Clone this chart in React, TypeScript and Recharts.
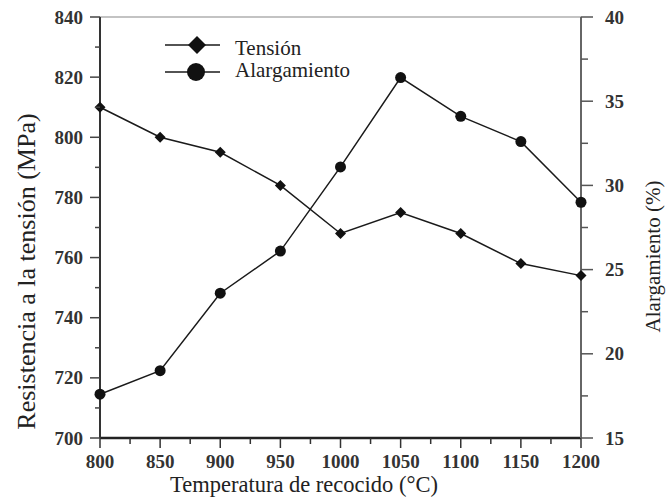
import React from 'react';
import { LineChart, Line, XAxis, YAxis, Legend, ReferenceLine } from 'recharts';

const temperatures = [800, 850, 900, 950, 1000, 1050, 1100, 1150, 1200];
const tension = [810, 800, 795, 784, 768, 775, 768, 758, 754];
const elongation = [17.6, 19.0, 23.6, 26.1, 31.1, 36.4, 34.1, 32.6, 29.0];

const xTicks = [800, 825, 850, 875, 900, 925, 950, 975, 1000, 1025, 1050, 1075, 1100, 1125, 1150, 1175, 1200];
const leftTicks = [700, 710, 720, 730, 740, 750, 760, 770, 780, 790, 800, 810, 820, 830, 840];
const rightTicks = [15, 17.5, 20, 22.5, 25, 27.5, 30, 32.5, 35, 37.5, 40];

const data = temperatures.map((t, i) => ({
  temp: t,
  tension: tension[i],
  alargamiento: elongation[i],
}));

const SERIF = 'Liberation Serif, DejaVu Serif, serif';
const INK = '#1a1a1a';

const tickText = { fontFamily: SERIF, fontWeight: 700, fontSize: 19, fill: '#333' };
const titleText = { fontFamily: SERIF, fontWeight: 400, fill: '#222' };

const isMajor = (v: number, base: number, step: number) => {
  const k = (v - base) / step;
  return Math.abs(k - Math.round(k)) < 1e-6;
};

// tick renderers draw their own tick marks so minor ticks can go without labels
const LeftTick = (props: any) => {
  const { x, y, payload } = props;
  const major = isMajor(payload.value, 700, 20);
  return (
    <g>
      <line x1={x} y1={y} x2={x - (major ? 10 : 5)} y2={y} stroke="#444" strokeWidth={1.5} />
      {major && (
        <text x={x - 17} y={y} textAnchor="end" dominantBaseline="central" style={tickText}>
          {payload.value}
        </text>
      )}
    </g>
  );
};

const RightTick = (props: any) => {
  const { x, y, payload } = props;
  const major = isMajor(payload.value, 15, 5);
  return (
    <g>
      <line x1={x} y1={y} x2={x + (major ? 12 : 7)} y2={y} stroke="#555" strokeWidth={1.5} />
      {major && (
        <text x={x + 24} y={y} textAnchor="start" dominantBaseline="central" style={tickText}>
          {payload.value}
        </text>
      )}
    </g>
  );
};

const BottomTick = (props: any) => {
  const { x, y, payload } = props;
  const major = isMajor(payload.value, 800, 50);
  return (
    <g>
      <line x1={x} y1={y} x2={x} y2={y + (major ? 10 : 6)} stroke="#333" strokeWidth={1.5} />
      {major && (
        <text x={x} y={y + 30} textAnchor="middle" style={tickText}>
          {payload.value}
        </text>
      )}
    </g>
  );
};

const Diamond = (props: any) => {
  const { cx, cy } = props;
  const s = props.size ?? 5.5;
  return <path d={`M${cx},${cy - s}L${cx + s},${cy}L${cx},${cy + s}L${cx - s},${cy}Z`} fill="#111" />;
};

const Dot = (props: any) => {
  const { cx, cy } = props;
  return <circle cx={cx} cy={cy} r={props.size ?? 5.5} fill="#111" />;
};

const renderLegend = () => (
  <svg width={220} height={52} style={{ display: 'block' }}>
    <line x1={5} y1={12} x2={60} y2={12} stroke={INK} strokeWidth={1.5} />
    <Diamond cx={37} cy={12} size={9} />
    <text x={75} y={22} style={{ ...titleText, fontSize: 21 }}>Tensión</text>
    <line x1={5} y1={39} x2={60} y2={39} stroke={INK} strokeWidth={1.5} />
    <Dot cx={36} cy={39} size={9} />
    <text x={75} y={44} style={{ ...titleText, fontSize: 21 }}>Alargamiento</text>
  </svg>
);

const LeftTitle = ({ viewBox }: any) => {
  const cx = viewBox.x + 26;
  const cy = viewBox.y + viewBox.height / 2 + 44;
  return (
    <text x={cx} y={cy} transform={`rotate(-90 ${cx} ${cy})`} textAnchor="middle" dominantBaseline="central" style={{ ...titleText, fontSize: 26 }}>
      Resistencia a la tensión (MPa)
    </text>
  );
};

const RightTitle = ({ viewBox }: any) => {
  const cx = viewBox.x + 72;
  const cy = viewBox.y + viewBox.height / 2 + 29;
  return (
    <text x={cx} y={cy} transform={`rotate(-90 ${cx} ${cy})`} textAnchor="middle" dominantBaseline="central" style={{ ...titleText, fontSize: 21 }}>
      Alargamiento (%)
    </text>
  );
};

const BottomTitle = ({ viewBox }: any) => (
  <text x={304} y={viewBox.y + 54} textAnchor="middle" style={{ ...titleText, fontSize: 22.5 }}>
    Temperatura de recocido (°C)
  </text>
);

export default function App() {
  return (
    <div style={{ position: 'absolute', left: 0, top: 0, background: '#fff' }}>
      <LineChart width={666} height={497} data={data} margin={{ top: 17, right: 0, bottom: 0, left: 0 }}>
        <XAxis
          dataKey="temp"
          type="number"
          domain={[800, 1200]}
          ticks={xTicks}
          interval={0}
          height={59}
          tickSize={0}
          tickMargin={0}
          tickLine={false}
          tick={<BottomTick />}
          axisLine={{ stroke: '#222', strokeWidth: 2.5 }}
          label={<BottomTitle />}
        />
        <YAxis
          yAxisId="left"
          domain={[700, 840]}
          ticks={leftTicks}
          interval={0}
          width={100}
          tickSize={0}
          tickMargin={0}
          tickLine={false}
          tick={<LeftTick />}
          axisLine={{ stroke: '#333', strokeWidth: 2 }}
          label={<LeftTitle />}
        />
        <YAxis
          yAxisId="right"
          orientation="right"
          domain={[15, 40]}
          ticks={rightTicks}
          interval={0}
          width={85}
          tickSize={0}
          tickMargin={0}
          tickLine={false}
          tick={<RightTick />}
          axisLine={{ stroke: '#666', strokeWidth: 2 }}
          label={<RightTitle />}
        />
        <ReferenceLine yAxisId="left" y={840} stroke="#888" strokeWidth={1.2} />
        <Legend
          layout="vertical"
          align="center"
          verticalAlign="middle"
          content={renderLegend}
          wrapperStyle={{ position: 'absolute', left: 160, top: 33, width: 220, height: 52 }}
        />
        <Line
          yAxisId="left"
          dataKey="tension"
          type="linear"
          stroke={INK}
          strokeWidth={1.5}
          dot={<Diamond />}
          activeDot={false}
          isAnimationActive={false}
        />
        <Line
          yAxisId="right"
          dataKey="alargamiento"
          type="linear"
          stroke={INK}
          strokeWidth={1.5}
          dot={<Dot />}
          activeDot={false}
          isAnimationActive={false}
        />
      </LineChart>
    </div>
  );
}
